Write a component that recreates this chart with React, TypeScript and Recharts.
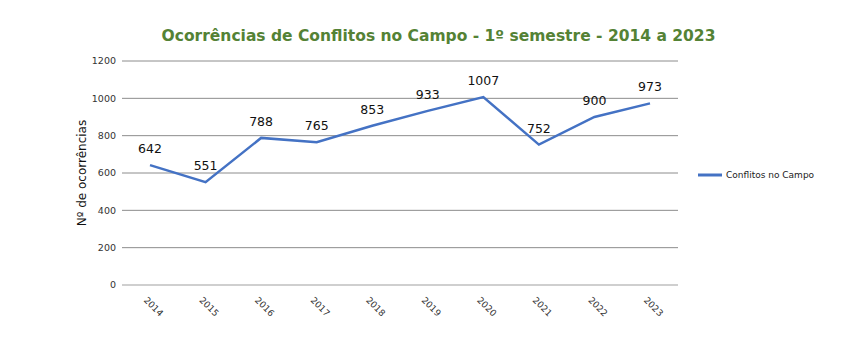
import { LineChart, Line, XAxis, YAxis, CartesianGrid, Legend, LabelList } from 'recharts';

const years = ['2014', '2015', '2016', '2017', '2018', '2019', '2020', '2021', '2022', '2023'];
const conflitos = [642, 551, 788, 765, 853, 933, 1007, 752, 900, 973];
const yTicks = [0, 200, 400, 600, 800, 1000, 1200];

const data = years.map((year, i) => ({ year, conflitos: conflitos[i] }));

const FONT = '"DejaVu Sans", sans-serif';

function YearTick({ x, y, payload }: any) {
  return (
    <g transform={`translate(${x - 5},${y + 6})`}>
      <text transform="rotate(45)" textAnchor="start" dominantBaseline="middle" fontSize={9} fill="#333" fontFamily={FONT}>
        {payload.value}
      </text>
    </g>
  );
}

export default function App() {
  return (
    <div style={{ position: 'absolute', left: 0, top: 0, width: 856, height: 352, background: '#fff' }}>
      <div
        style={{
          position: 'absolute',
          top: 27,
          left: 0,
          width: 877,
          textAlign: 'center',
          fontFamily: FONT,
          fontWeight: 'bold',
          fontSize: 15.5,
          color: '#548235',
        }}
      >
        Ocorrências de Conflitos no Campo - 1º semestre - 2014 a 2023
      </div>
      <LineChart width={856} height={352} data={data} margin={{ top: 61, right: 28, bottom: 37, left: 0 }}>
        <CartesianGrid vertical={false} stroke="#8c8c8c" />
        <XAxis
          dataKey="year"
          tick={<YearTick />}
          tickLine={false}
          axisLine={{ stroke: '#d9d9d9' }}
          interval={0}
          padding={{ left: 28, right: 28 }}
        />
        <YAxis
          width={122}
          domain={[0, 1200]}
          ticks={yTicks}
          tickLine={false}
          axisLine={false}
          tick={{ fontSize: 9.5, fill: '#333', fontFamily: FONT }}
          tickMargin={0}
          label={{
            value: 'Nº de ocorrências',
            angle: -90,
            position: 'insideLeft',
            dx: 77,
            style: { fontSize: 12, fill: '#111', fontFamily: FONT, textAnchor: 'middle' },
          }}
        />
        <Legend
          layout="vertical"
          align="right"
          verticalAlign="middle"
          iconType="plainline"
          iconSize={24}
          wrapperStyle={{ left: 698, top: 163, width: 150, fontSize: 9, fontFamily: FONT, color: '#222' }}
          formatter={(v: string) => <span style={{ color: '#222' }}>{v}</span>}
        />
        <Line
          type="linear"
          dataKey="conflitos"
          name="Conflitos no Campo"
          stroke="#4472C4"
          strokeWidth={2.5}
          dot={false}
          isAnimationActive={false}
        >
          <LabelList dataKey="conflitos" position="top" offset={12} fontSize={12.5} fill="#111" fontFamily={FONT} />
        </Line>
      </LineChart>
    </div>
  );
}
